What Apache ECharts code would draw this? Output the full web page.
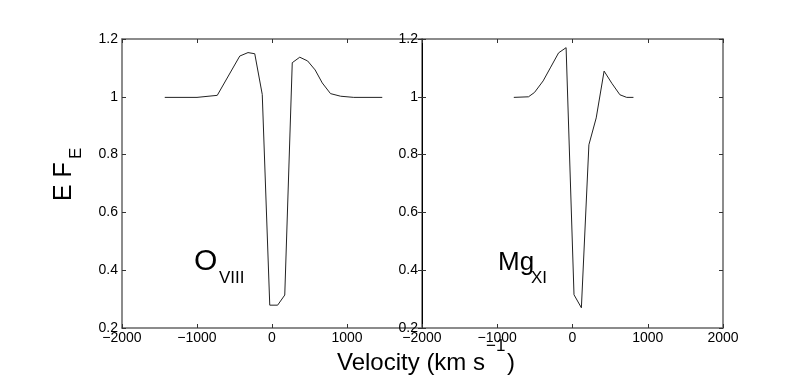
<!DOCTYPE html>
<html>
<head>
<meta charset="utf-8">
<script src="https://cdn.jsdelivr.net/npm/echarts@6/dist/echarts.min.js"></script>
<style>
  html, body { margin: 0; padding: 0; background: #fff; }
  #chart { width: 804px; height: 388px; }
</style>
</head>
<body>
<div id="chart"></div>
<script>
// O VIII line profile (left panel)
const velO = [-1430, -1000, -730, -430, -320, -230, -130, -30, 75, 170, 270, 370, 475, 575, 670, 780, 915, 1090, 1470];
const fluxO = [0.998, 0.998, 1.005, 1.141, 1.153, 1.149, 1.008, 0.279, 0.279, 0.314, 1.118, 1.137, 1.124, 1.093, 1.048, 1.011, 1.002, 0.998, 0.998];

// Mg XI line profile (right panel)
const velMg = [-780, -585, -505, -390, -295, -185, -85, 20, 118, 218, 315, 420, 522, 630, 720, 810];
const fluxMg = [0.998, 1.0, 1.015, 1.055, 1.10, 1.152, 1.17, 0.315, 0.27, 0.834, 0.927, 1.089, 1.047, 1.007, 0.998, 0.998];

const xTicks = [-2000, -1000, 0, 1000, 2000];
const yTicks = [0.2, 0.4, 0.6, 0.8, 1, 1.2];

const chart = echarts.init(document.getElementById('chart'));

const font = 'Liberation Sans, Arial, Helvetica, sans-serif';
const frameColor = '#666';

const fmtX = (hideMax) => (v) => {
  if (hideMax && v === xTicks[xTicks.length - 1]) return '';
  return v < 0 ? '\u2212' + Math.abs(v) : String(v);
};

const xAxisFor = (gridIndex, position, showLabels, hideMax) => ({
  type: 'value',
  gridIndex: gridIndex,
  position: position,
  min: xTicks[0],
  max: xTicks[xTicks.length - 1],
  interval: 1000,
  axisLine: { show: true, onZero: false, lineStyle: { color: frameColor, width: 1.5 } },
  axisTick: { show: true, inside: true, length: 4, lineStyle: { color: '#333' } },
  axisLabel: {
    show: showLabels,
    color: '#000',
    fontFamily: font,
    fontSize: 14,
    margin: 3,
    formatter: fmtX(hideMax),
  },
  splitLine: { show: false },
});

const yAxisFor = (gridIndex, position, showLabels, lineColor) => ({
  type: 'value',
  gridIndex: gridIndex,
  position: position,
  min: yTicks[0],
  max: yTicks[yTicks.length - 1],
  interval: 0.2,
  axisLine: { show: true, onZero: false, lineStyle: { color: lineColor || frameColor, width: lineColor ? 1 : 1.5 } },
  axisTick: { show: true, inside: true, length: 4, lineStyle: { color: '#333' } },
  axisLabel: {
    show: showLabels,
    color: '#000',
    fontFamily: font,
    fontSize: 14,
    margin: 4,
    formatter: (v) => String(Math.round(v * 10) / 10),
  },
  splitLine: { show: false },
});

const option = {
  backgroundColor: '#fff',
  animation: false,
  grid: [
    { left: 122, top: 39, width: 300, height: 289, show: true, backgroundColor: '#fff', borderWidth: 0 },
    { left: 422, top: 39, width: 301, height: 289, show: true, backgroundColor: 'transparent', borderWidth: 0 },
  ],
  xAxis: [
    xAxisFor(0, 'bottom', true, true),
    xAxisFor(0, 'top', false, false),
    xAxisFor(1, 'bottom', true, false),
    xAxisFor(1, 'top', false, false),
  ],
  yAxis: [
    yAxisFor(0, 'left', true),
    yAxisFor(0, 'right', false),
    yAxisFor(1, 'left', true, '#000'),
    yAxisFor(1, 'right', false),
  ],
  series: [
    {
      name: 'O VIII',
      type: 'line',
      xAxisIndex: 0,
      yAxisIndex: 0,
      data: velO.map((v, i) => [v, fluxO[i]]),
      showSymbol: false,
      lineStyle: { color: '#222', width: 1 },
    },
    {
      name: 'Mg XI',
      type: 'line',
      xAxisIndex: 2,
      yAxisIndex: 2,
      data: velMg.map((v, i) => [v, fluxMg[i]]),
      showSymbol: false,
      lineStyle: { color: '#222', width: 1 },
    },
  ],
  graphic: [
    // y axis title: E F_E
    { type: 'text', x: 77, y: 201, rotation: Math.PI / 2,
      style: { text: 'E F', font: '25px ' + font, fill: '#000', textAlign: 'left', textVerticalAlign: 'bottom' } },
    { type: 'text', x: 85, y: 159, rotation: Math.PI / 2,
      style: { text: 'E', font: '17px ' + font, fill: '#000', textAlign: 'left', textVerticalAlign: 'bottom' } },
    // x axis title: Velocity (km s^-1)
    { type: 'text', x: 337, y: 375,
      style: { text: 'Velocity (km s', font: '24px ' + font, fill: '#000', textAlign: 'left', textVerticalAlign: 'bottom' } },
    { type: 'text', x: 486, y: 355,
      style: { text: '\u22121', font: '17px ' + font, fill: '#000', textAlign: 'left', textVerticalAlign: 'bottom' } },
    { type: 'text', x: 507, y: 375,
      style: { text: ')', font: '24px ' + font, fill: '#000', textAlign: 'left', textVerticalAlign: 'bottom' } },
    // panel labels
    { type: 'text', x: 194, y: 277,
      style: { text: 'O', font: '30px ' + font, fill: '#000', textAlign: 'left', textVerticalAlign: 'bottom' } },
    { type: 'text', x: 219, y: 287,
      style: { text: 'VIII', font: '17px ' + font, fill: '#000', textAlign: 'left', textVerticalAlign: 'bottom' } },
    { type: 'text', x: 498, y: 276,
      style: { text: 'Mg', font: '26px ' + font, fill: '#000', textAlign: 'left', textVerticalAlign: 'bottom' } },
    { type: 'text', x: 531, y: 287,
      style: { text: 'XI', font: '17px ' + font, fill: '#000', textAlign: 'left', textVerticalAlign: 'bottom' } },
  ],
};

chart.setOption(option);
window.addEventListener('resize', chart.resize);
</script>
</body>
</html>
